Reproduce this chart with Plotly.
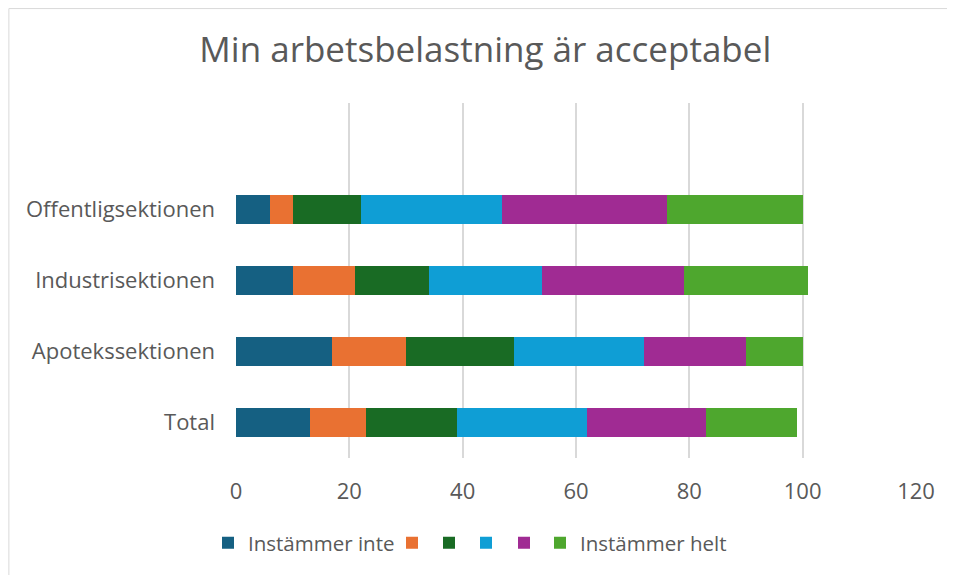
import plotly.graph_objects as go

categories = ["Total", "Apotekssektionen", "Industrisektionen", "Offentligsektionen"]
series_names = ["Instämmer inte", " ", "  ", "   ", "    ", "Instämmer helt"]
s1 = [13, 17, 10, 6]
s2 = [10, 13, 11, 4]
s3 = [16, 19, 13, 12]
s4 = [23, 23, 20, 25]
s5 = [21, 18, 25, 29]
s6 = [16, 10, 22, 24]
colors = ["#156082", "#E97132", "#196B24", "#0F9ED5", "#A02B93", "#4EA72E"]

# left edge of each legend swatch in the reference (window px)
legend_left = [222, 406, 443, 480, 518, 554]

PW, PH = 680, 355  # plot area size in px

def px_x(x):
    return (x - 236) / PW

fig = go.Figure()
legends = {}
for i, (name, vals, col) in enumerate(zip(series_names, [s1, s2, s3, s4, s5, s6], colors)):
    lid = "legend" if i == 0 else f"legend{i + 1}"
    fig.add_trace(go.Bar(y=categories, x=vals, name=name, orientation="h", legend=lid,
                         marker=dict(color=col, line=dict(width=0))))
    legends[lid] = dict(orientation="h", yanchor="middle", y=-0.239, xanchor="left",
                        x=px_x(legend_left[i] - 14), font=dict(size=20.5, color="#595959"),
                        itemwidth=30, bgcolor="rgba(0,0,0,0)", borderwidth=0)

fig.update_layout(
    barmode="stack",
    bargap=0.6,
    width=947, height=567,
    margin=dict(l=228, r=39, t=95, b=117),
    plot_bgcolor="white", paper_bgcolor="white",
    font=dict(family="Open Sans, sans-serif", size=22, color="#595959"),
    title=dict(text="Min arbetsbelastning är acceptabel", x=0.504, xanchor="center",
               y=0.926, yanchor="middle", font=dict(size=35, color="#595959")),
    showlegend=True,
    **legends,
)
fig.update_xaxes(range=[0, 120], dtick=20, showgrid=True, gridcolor="#D9D9D9", gridwidth=2,
                 zeroline=False, ticks="", ticklabelstandoff=18, tickfont=dict(size=22))
fig.update_yaxes(type="category", categoryorder="array", categoryarray=categories,
                 range=[-0.5, 4.5], showgrid=False, ticks="", ticklabelstandoff=20,
                 tickfont=dict(size=22))
fig.add_shape(type="rect", xref="paper", yref="paper", x0=-0.334, x1=1.3, y0=-1, y1=1.266,
              line=dict(color="#D9D9D9", width=1), fillcolor="rgba(0,0,0,0)", layer="below")

fig.write_html("out.html")
